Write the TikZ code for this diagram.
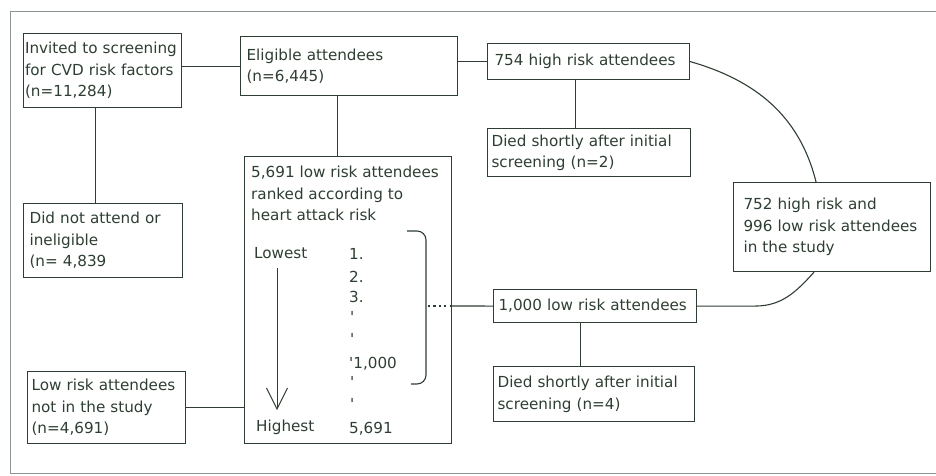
\documentclass[tikz,border=0pt]{standalone}
\usepackage{fontspec}
\setmainfont{DejaVu Sans}
\usetikzlibrary{arrows.meta}
\definecolor{ink}{RGB}{46,62,50}

\begin{document}
\begin{tikzpicture}[x=1pt, y=-1pt,
  every node/.style={font=\fontsize{15.2}{21.5}\selectfont, text=ink},
  box/.style={draw=ink, line width=1.1pt, anchor=north west, align=left, inner ysep=0pt},
  txt/.style={anchor=base west, inner sep=0pt},
  link/.style={draw=ink, line width=1.1pt}]
  \useasboundingbox (0,0) rectangle (936,475);
  \draw[ink!55, line width=0.8pt] (936,11) -- (10,11) -- (10,473) -- (936,473);

  \node[box, inner xsep=1.5pt, text width=155pt, minimum height=74pt] (invited) at (23,33) {Invited to screening\\for CVD risk factors\\(n=11,284)};
  \node[box, inner xsep=6pt, text width=205pt, minimum height=59pt] (eligible) at (240,36) {Eligible attendees\\(n=6,445)};
  \node[box, inner xsep=6pt, text width=147pt, minimum height=74pt] (notattend) at (23,203) {Did not attend or\\ineligible\\(n= 4,839};
  \node[box, minimum width=207pt, minimum height=287pt] (ranked) at (244,156) {};
  \node[box, inner xsep=7pt, text width=188pt, minimum height=36pt] (high) at (487,43) {754 high risk attendees};
  \node[box, inner xsep=4pt, text width=195pt, minimum height=48pt] (died2) at (487,128) {Died shortly after initial\\screening (n=2)};
  \node[box, inner xsep=10pt, text width=177pt, minimum height=89pt] (study) at (733,182) {752 high risk and\\996 low risk attendees\\in the study};
  \node[box, inner xsep=5pt, text width=193pt, minimum height=33pt] (low1000) at (493,289) {1,000 low risk attendees};
  \node[box, inner xsep=4pt, text width=193pt, minimum height=55pt] (died4) at (493,366) {Died shortly after initial\\screening (n=4)};
  \node[box, inner xsep=4pt, text width=150pt, minimum height=72pt] (notstudy) at (27,371) {Low risk attendees\\not in the study\\(n=4,691)};

  \node[anchor=north west, align=left, inner sep=0pt] (rankhead) at (251,166) {5,691 low risk attendees\\ranked according to\\heart attack risk};
  \node[txt] (lowest) at (254,258) {Lowest};
  \node[txt] (highest) at (256,431) {Highest};
  \node[txt] (r1) at (349,259) {1.};
  \node[txt] (r2) at (349,282) {2.};
  \node[txt] (r3) at (349,302) {3.};
  \node[txt] (d1) at (350,322) {\textquotesingle};
  \node[txt] (d2) at (350,344) {\textquotesingle};
  \node[txt] (r1000) at (349,368) {\textquotesingle 1,000};
  \node[txt] (d3) at (350,387) {\textquotesingle};
  \node[txt] (d4) at (350,409) {\textquotesingle};
  \node[txt] (rlast) at (349,433) {5,691};

  \coordinate (arrtop) at (277,268);
  \coordinate (arrend) at (277,410);
  \draw[link, line width=1pt, -{Straight Barb[length=21pt, width=21pt, line width=1pt]}] (arrtop) -- (arrend);

  \coordinate (brtop) at (407,231);
  \coordinate (brbot) at (411,384);
  \coordinate (brk) at (428,306);
  \draw[link, rounded corners=9pt] (brtop) -- (426,231) -- (426,384) -- (brbot);
  \draw[link, line width=2.2pt, dash pattern=on 2.2pt off 3.2pt] (brk) -- (brk -| ranked.east);
  \draw[link] (brk -| ranked.east) -- (low1000.west);

  \draw[link] (invited.east |- eligible.west) -- (eligible.west);
  \draw[link] ([xshift=-7pt]invited.south) -- ([xshift=-7pt]invited.south |- notattend.north);
  \draw[link] ([xshift=-12pt]eligible.south) -- ([xshift=-12pt]eligible.south |- ranked.north);
  \draw[link] (eligible.east |- high.west) -- (high.west);
  \draw[link] ([xshift=-13pt]high.south) -- ([xshift=-13pt]high.south |- died2.north);
  \draw[link] ([xshift=-15pt]low1000.south) -- ([xshift=-15pt]low1000.south |- died4.north);
  \draw[link] (notstudy.east) -- (notstudy.east -| ranked.west);
  \draw[link] (high.east) to[out=-16, in=104] ([xshift=-16pt]study.north);
  \draw[link] (low1000.east) -- ++(58,0) to[out=0, in=-132] ([xshift=-18pt]study.south);
\end{tikzpicture}
\end{document}
